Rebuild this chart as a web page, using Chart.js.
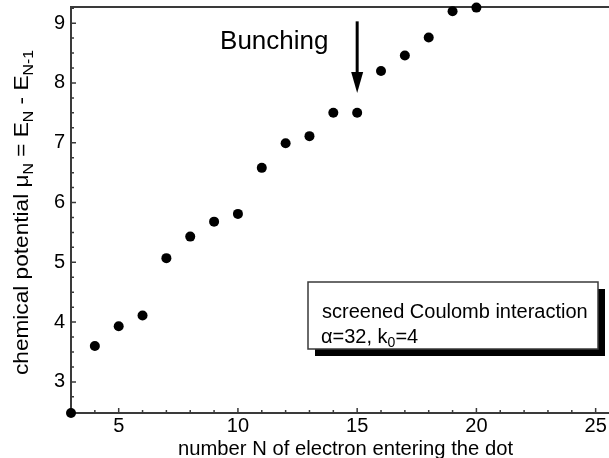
<!DOCTYPE html>
<html>
<head>
<meta charset="utf-8">
<script src="https://cdn.jsdelivr.net/npm/chart.js@4.4.1/dist/chart.umd.min.js"></script>
<style>
  html, body { margin: 0; padding: 0; background: #fff; }
  #wrap { width: 609px; height: 458px; }
</style>
</head>
<body>
<div id="wrap"><canvas id="muChart" width="609" height="458"></canvas></div>
<script>
// number of electrons N and chemical potential mu_N = E_N - E_N-1
const electronN = [3, 4, 5, 6, 7, 8, 9, 10, 11, 12, 13, 14, 15, 16, 17, 18, 19, 20];
const chemPotential = [2.48, 3.60, 3.93, 4.11, 5.07, 5.43, 5.68, 5.81, 6.58, 6.99, 7.11, 7.50, 7.50, 8.20, 8.46, 8.76, 9.20, 9.26];

const xTickValues = [5, 10, 15, 20, 25];
const yTickValues = [3, 4, 5, 6, 7, 8, 9];

const FONT = "'Liberation Sans', Arial, Helvetica, sans-serif";
const AXIS_COLOR = '#3a3a3a';

// axes, minor ticks, titles, arrow and the note box
const decorPlugin = {
    id: 'decor',
    beforeDatasetsDraw: (chart) => {
        const ctx = chart.ctx, a = chart.chartArea;
        const xs = chart.scales.x, ys = chart.scales.y;
        ctx.save();
        ctx.strokeStyle = AXIS_COLOR;
        ctx.lineWidth = 2;
        ctx.beginPath();
        ctx.moveTo(a.right, a.top); ctx.lineTo(a.left, a.top);
        ctx.lineTo(a.left, a.bottom); ctx.lineTo(a.right, a.bottom);
        ctx.stroke();

        ctx.lineWidth = 1.5;
        ctx.beginPath();
        // x ticks, every unit, longer at labelled values
        for (let v = Math.ceil(xs.min); v <= xs.max; v++) {
            const px = xs.getPixelForValue(v);
            const len = v % 5 === 0 ? 5 : 3;
            ctx.moveTo(px, a.bottom); ctx.lineTo(px, a.bottom - len);
        }
        // y ticks, every quarter
        for (let v = Math.ceil(ys.min * 4) / 4; v <= ys.max; v += 0.25) {
            const py = ys.getPixelForValue(v);
            const len = Math.abs(v - Math.round(v)) < 1e-6 ? 5 : 3;
            ctx.moveTo(a.left, py); ctx.lineTo(a.left + len, py);
        }
        ctx.stroke();
        ctx.restore();
    },
    afterDraw: (chart) => {
        const ctx = chart.ctx, a = chart.chartArea;
        const xs = chart.scales.x, ys = chart.scales.y;
        ctx.save();
        ctx.fillStyle = '#000';
        ctx.textBaseline = 'alphabetic';

        // x title
        ctx.font = '20px ' + FONT;
        const xt = 'number N of electron entering the dot';
        const xw = ctx.measureText(xt).width;
        ctx.save();
        ctx.translate(178, 455);
        ctx.scale(335 / xw, 1);
        ctx.fillText(xt, 0, 0);
        ctx.restore();

        // y title with subscripts
        const parts = [
            { t: 'chemical potential \u03BC', sub: false },
            { t: 'N', sub: true },
            { t: ' = E', sub: false },
            { t: 'N', sub: true },
            { t: ' - E', sub: false },
            { t: 'N-1', sub: true }
        ];
        let total = 0;
        parts.forEach(p => {
            ctx.font = (p.sub ? '14px ' : '20px ') + FONT;
            p.w = ctx.measureText(p.t).width;
            total += p.w;
        });
        ctx.save();
        ctx.translate(28, 375);
        ctx.rotate(-Math.PI / 2);
        ctx.scale(325 / total, 1);
        let cx = 0;
        parts.forEach(p => {
            ctx.font = (p.sub ? '14px ' : '20px ') + FONT;
            ctx.fillText(p.t, cx, p.sub ? 5 : 0);
            cx += p.w;
        });
        ctx.restore();

        // "Bunching" label and arrow
        ctx.font = '26px ' + FONT;
        ctx.fillText('Bunching', xs.getPixelForValue(9.25), ys.getPixelForValue(8.56));
        const ax = xs.getPixelForValue(15);
        const ay0 = ys.getPixelForValue(9.03), ay1 = ys.getPixelForValue(7.83);
        ctx.strokeStyle = '#000';
        ctx.lineWidth = 3;
        ctx.beginPath();
        ctx.moveTo(ax, ay0); ctx.lineTo(ax, ay1 - 18);
        ctx.stroke();
        ctx.beginPath();
        ctx.moveTo(ax - 6, ay1 - 21);
        ctx.lineTo(ax + 6, ay1 - 21);
        ctx.lineTo(ax, ay1);
        ctx.closePath();
        ctx.fill();

        // note box with drop shadow
        const bx = 308, by = 282, bw = 290, bh = 67;
        ctx.fillStyle = '#000';
        ctx.fillRect(bx + 7, by + 7, bw, bh);
        ctx.fillStyle = '#fff';
        ctx.fillRect(bx, by, bw, bh);
        ctx.strokeStyle = AXIS_COLOR;
        ctx.lineWidth = 1.5;
        ctx.strokeRect(bx, by, bw, bh);
        ctx.fillStyle = '#000';
        ctx.font = '20px ' + FONT;
        ctx.fillText('screened Coulomb interaction', 322, 318);
        let tx = 321;
        const l2 = [['\u03B1=32, k', false], ['0', true], ['=4', false]];
        l2.forEach(([t, sub]) => {
            ctx.font = (sub ? '14px ' : '20px ') + FONT;
            ctx.fillText(t, tx, sub ? 347 : 343);
            tx += ctx.measureText(t).width;
        });
        ctx.restore();
    }
};

function noPadding(s) {
    s.paddingLeft = 0; s.paddingRight = 0;
    s.paddingTop = 0; s.paddingBottom = 0;
}

const ctx = document.getElementById('muChart');
new Chart(ctx, {
    type: 'scatter',
    data: {
        datasets: [{
            data: electronN.map((n, i) => ({ x: n, y: chemPotential[i] })),
            backgroundColor: '#000',
            borderColor: '#000',
            borderWidth: 0,
            pointRadius: 5,
            pointHoverRadius: 5,
            clip: false
        }]
    },
    options: {
        responsive: false,
        animation: false,
        devicePixelRatio: 1,
        layout: { autoPadding: false, padding: { top: 7, left: 0, right: 0, bottom: 0 } },
        plugins: {
            legend: { display: false },
            tooltip: { enabled: false }
        },
        scales: {
            x: {
                type: 'linear',
                min: 3,
                max: 25.56,
                grid: { display: false, drawTicks: false },
                border: { display: false },
                afterBuildTicks: (s) => { s.ticks = xTickValues.map(v => ({ value: v })); },
                afterFit: (s) => { s.height = 45; noPadding(s); },
                ticks: {
                    font: { family: FONT, size: 20 },
                    color: '#000',
                    padding: 1,
                    maxRotation: 0,
                    autoSkip: false
                }
            },
            y: {
                type: 'linear',
                min: 2.48,
                max: 9.27,
                grid: { display: false, drawTicks: false },
                border: { display: false },
                afterBuildTicks: (s) => { s.ticks = yTickValues.map(v => ({ value: v })); },
                afterFit: (s) => { s.width = 71; noPadding(s); },
                ticks: {
                    font: { family: FONT, size: 20 },
                    color: '#000',
                    padding: 6,
                    autoSkip: false
                }
            }
        }
    },
    plugins: [decorPlugin]
});
</script>
</body>
</html>
